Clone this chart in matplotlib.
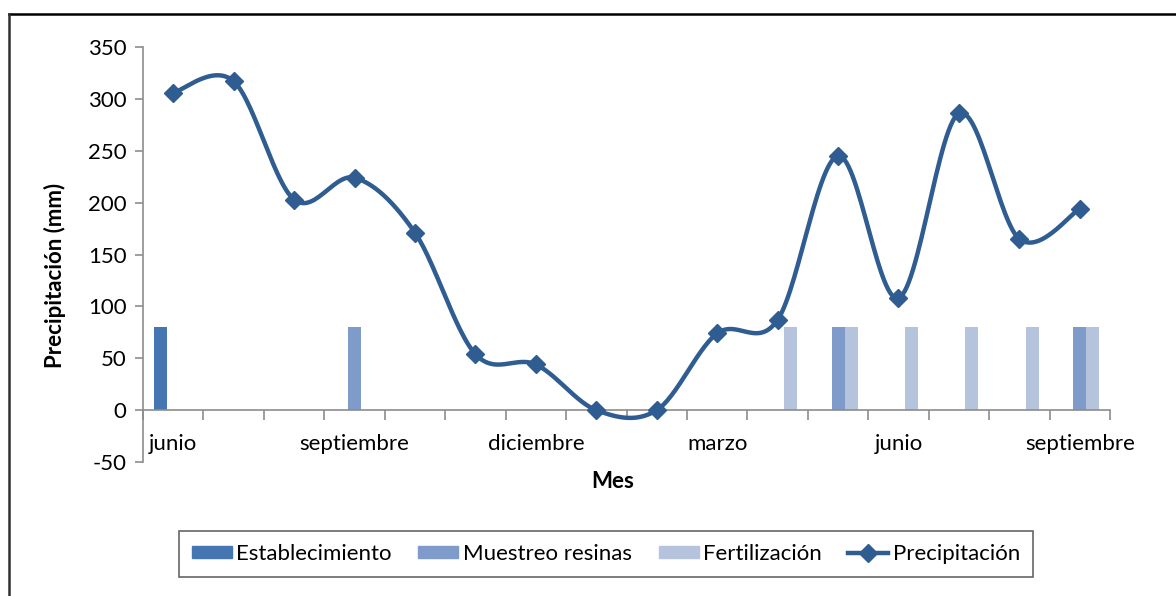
import numpy as np
import matplotlib
matplotlib.use("Agg")
import matplotlib.pyplot as plt
from matplotlib.lines import Line2D

plt.rcParams['font.family'] = ['Lato', 'DejaVu Sans']
plt.rcParams['axes.unicode_minus'] = False

# datos
meses = ["junio", "julio", "agosto", "septiembre", "octubre", "noviembre",
         "diciembre", "enero", "febrero", "marzo", "abril", "mayo",
         "junio", "julio", "agosto", "septiembre"]
precipitacion = [306, 317, 203, 224, 171, 54, 44, 0, 0, 74, 87, 245, 108, 286, 165, 194]
establecimiento = [80, 0, 0, 0, 0, 0, 0, 0, 0, 0, 0, 0, 0, 0, 0, 0]
muestreo = [0, 0, 0, 80, 0, 0, 0, 0, 0, 0, 0, 80, 0, 0, 0, 80]
fertilizacion = [0, 0, 0, 0, 0, 0, 0, 0, 0, 0, 80, 80, 80, 80, 80, 80]

c_est = "#4676b2"
c_mue = "#7e9bc9"
c_fer = "#b5c3dd"
c_lin = "#2f5d91"


def suavizar(x, y, n=30):
    # curva suavizada tipo Excel (bezier con puntos de control catmull-rom)
    x = np.asarray(x, float)
    y = np.asarray(y, float)
    px = np.concatenate([[x[0]], x, [x[-1]]])
    py = np.concatenate([[y[0]], y, [y[-1]]])
    t = np.linspace(0, 1, n)
    xs, ys = [], []
    for i in range(len(x) - 1):
        p0x, p0y = px[i + 1], py[i + 1]
        p3x, p3y = px[i + 2], py[i + 2]
        p1x = p0x + (p3x - px[i]) / 6
        p1y = p0y + (p3y - py[i]) / 6
        p2x = p3x - (px[i + 3] - p0x) / 6
        p2y = p3y - (py[i + 3] - p0y) / 6
        b0 = (1 - t) ** 3
        b1 = 3 * (1 - t) ** 2 * t
        b2 = 3 * (1 - t) * t ** 2
        b3 = t ** 3
        xs.append(b0 * p0x + b1 * p1x + b2 * p2x + b3 * p3x)
        ys.append(b0 * p0y + b1 * p1y + b2 * p2y + b3 * p3y)
    return np.concatenate(xs), np.concatenate(ys)


fig = plt.figure(figsize=(11.76, 5.96), dpi=100)
ax = fig.add_axes([0.1216, 0.2248, 0.8223, 0.6963])

x = np.arange(len(meses)) + 0.5
w = 0.215
ax.bar(x - w, establecimiento, w, color=c_est, zorder=2)
ax.bar(x, muestreo, w, color=c_mue, zorder=2)
ax.bar(x + w, fertilizacion, w, color=c_fer, zorder=2)

sx, sy = suavizar(x, precipitacion)
ax.plot(sx, sy, color=c_lin, lw=3.2, zorder=3, solid_capstyle='round')
ax.plot(x, precipitacion, ls='none', marker='D', ms=9, color=c_lin, zorder=4)

ax.set_xlim(0, len(meses))
ax.set_ylim(-50, 350)
ax.set_yticks(np.arange(-50, 351, 50))

gris = "#8c8c8c"
for s in ['top', 'right']:
    ax.spines[s].set_visible(False)
ax.spines['bottom'].set_position(('data', 0))
ax.spines['bottom'].set_color(gris)
ax.spines['left'].set_color(gris)
ax.spines['bottom'].set_linewidth(1.2)
ax.spines['left'].set_linewidth(1.2)

ax.set_xticks(np.arange(len(meses) + 1))
ax.set_xticklabels([])
ax.set_xticks(x[::3], minor=True)
ax.set_xticklabels(meses[::3], minor=True)
ax.tick_params(axis='x', which='major', direction='out', length=7, color=gris, width=1.2)
ax.tick_params(axis='x', which='minor', length=0, pad=17, labelsize=16)
ax.tick_params(axis='y', direction='out', length=6, color=gris, width=1.2, labelsize=16, pad=6)

fig.text(613 / 1176, 1 - 481 / 596, "Mes", fontsize=16, fontweight='bold', ha='center', va='center')
fig.text(55 / 1176, 1 - 275 / 596, "Precipitación (mm)", fontsize=16, fontweight='bold',
         ha='center', va='center', rotation=90)

handles = [
    plt.Rectangle((0, 0), 1, 1, color=c_est),
    plt.Rectangle((0, 0), 1, 1, color=c_mue),
    plt.Rectangle((0, 0), 1, 1, color=c_fer),
    Line2D([], [], color=c_lin, lw=3.2, marker='D', ms=9),
]
etiquetas = ["Establecimiento", "Muestreo resinas", "Fertilización", "Precipitación"]
leg = fig.legend(handles, etiquetas, loc='center', bbox_to_anchor=(606 / 1176, 1 - 554 / 596),
                 ncol=4, fontsize=16, frameon=True, fancybox=False, handlelength=1.8,
                 handleheight=0.5, handletextpad=0.2, columnspacing=1.2, borderpad=0.6)
leg.get_frame().set_edgecolor("#404040")
leg.get_frame().set_linewidth(1.2)

# marco exterior
fig.add_artist(Line2D([9 / 1176, 1], [1 - 14 / 596, 1 - 14 / 596], color='black', lw=1.8,
                      transform=fig.transFigure))
fig.add_artist(Line2D([9 / 1176, 9 / 1176], [0, 1 - 14 / 596], color='#303030', lw=1.8,
                      transform=fig.transFigure))

fig.savefig("out.png", dpi=100)
